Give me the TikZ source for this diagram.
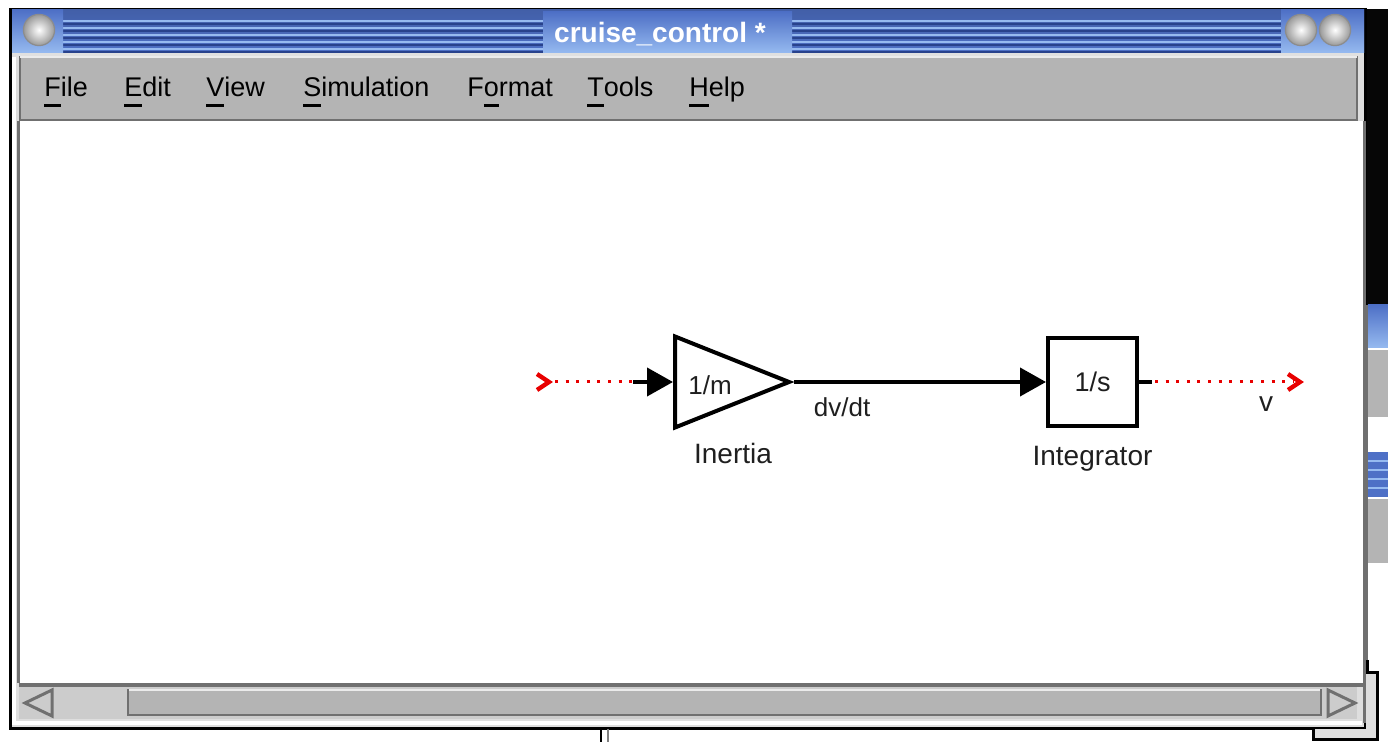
\documentclass[tikz,border=0pt]{standalone}
\usepackage{fontspec}
\setmainfont{Liberation Sans}
\usetikzlibrary{arrows.meta, positioning, shapes.geometric}
\definecolor{barblue}{RGB}{78,112,198}
\definecolor{barlight}{RGB}{150,186,240}
\definecolor{bardark}{RGB}{40,66,140}
\definecolor{menugray}{RGB}{180,180,180}
\definecolor{edgegray}{RGB}{112,112,112}
\definecolor{troughgray}{RGB}{204,204,204}
\definecolor{framegray}{RGB}{222,222,222}
\definecolor{sigred}{RGB}{232,0,0}
\definecolor{deskblack}{RGB}{6,6,6}
\newcommand\mnem[1]{\setbox0\hbox{#1}\rlap{\rule[-5pt]{\wd0}{1.5pt}}\box0}

\begin{document}
\begin{tikzpicture}[x=0.5pt, y=-0.5pt,
  menu/.style={font=\fontsize{13.5}{15}\selectfont, anchor=base west, inner sep=0pt},
  lbl/.style={font=\fontsize{14}{16}\selectfont, text=black!88, inner sep=0pt},
  gain/.style={isosceles triangle, isosceles triangle stretches, draw,
    line width=2pt, minimum width=45.5pt, minimum height=57pt,
    inner sep=0pt, line join=miter},
  blockbox/.style={draw, line width=2pt, minimum width=44.5pt,
    minimum height=44pt, inner sep=0pt, font=\fontsize{13.5}{15}\selectfont,
    text=black!88},
  sig/.style={line width=2pt, -{Triangle[length=13pt, width=14pt]}},
  dots/.style={sigred, line width=1.5pt, dash pattern=on 1.5pt off 3.8pt},
  chev/.style={sigred, line width=2.2pt},
  knob/.style={inner color=white, outer color=black!40, draw=black!45, line width=0.6pt}
]
  \useasboundingbox (0,0) rectangle (1388,742);
  \fill[white] (0,0) rectangle (1388,742);

  % Desktop behind, top right
  \fill[deskblack] (1340,9) rectangle (1388,305);

  % Main window
  \fill[framegray] (11,9) rectangle (1365,728);
  \draw[black, line width=1.2pt] (10.5,9) rectangle (1365.5,728.5);
  \draw[white, line width=2pt] (14,53) -- (14,723) -- (1362,723);

  % Windows behind, right edge
  \shade[top color=barblue, bottom color=barlight] (1368,305) rectangle (1388,348);
  \fill[menugray] (1368,350) rectangle (1388,417);
  \fill[barblue] (1368,452) rectangle (1388,497);
  \foreach \yy in {461,470,479,488}
    \draw[barlight, line width=1pt] (1368,\yy) -- (1388,\yy);
  \fill[menugray] (1368,499) rectangle (1388,563);
  \draw[edgegray, line width=1pt] (1367,305) -- (1367,660);
  \fill[framegray] (1313,729) rectangle (1377,740);
  \fill[framegray] (1366,673) rectangle (1377,740);
  \draw[black, line width=1.5pt] (1367,660) -- (1367,673) -- (1377,673)
    -- (1377,740) -- (1313,740) -- (1313,729);
  \draw[black, line width=1.2pt] (601,729) -- (601,742);
  \draw[gray, line width=1.2pt] (608,729) -- (608,742);

  % Title bar
  \shade[top color=barblue!85!black, bottom color=barblue] (12,10) rectangle (1364,53);
  \foreach \yy in {21,28,35,42,49} {
    \draw[barlight, line width=1.2pt] (63,\yy) -- (543,\yy) (792,\yy) -- (1281,\yy);
    \draw[bardark, line width=1.2pt] (63,\yy+3) -- (543,\yy+3) (792,\yy+3) -- (1281,\yy+3);
  }
  \shade[top color=barblue, bottom color=barlight] (12,10) rectangle (63,53);
  \shade[top color=barblue, bottom color=barlight] (1281,10) rectangle (1364,53);
  \shade[top color=barblue, bottom color=barlight] (543,12) rectangle (792,53);
  \node[font=\bfseries\fontsize{14}{16}\selectfont, text=white, inner sep=0pt]
    (title) at (660,34) {cruise\_control *};
  \shade[knob] (39,30) circle (7.8pt);
  \shade[knob] (1301,30) circle (7.8pt);
  \shade[knob] (1335,30) circle (7.8pt);

  % Menu bar
  \fill[white!88!black] (12,53) rectangle (1364,57);
  \filldraw[fill=menugray, draw=edgegray, line width=1pt] (20,57) rectangle (1357,120);
  \draw[white!92!black, line width=1pt] (20,57.5) -- (1357,57.5);
  \foreach \mx/\mtext in {44/\mnem{F}ile, 124/\mnem{E}dit, 206/\mnem{V}iew,
      303/\mnem{S}imulation, 467/F\mnem{o}rmat, 587/\mnem{T}ools, 689/\mnem{H}elp}
    \node[menu] (m\mx) at (\mx,97) {\mtext};

  % Canvas
  \fill[white] (19,121) rectangle (1364,683);
  \draw[edgegray, line width=1.2pt] (18.5,121) -- (18.5,683);
  \draw[edgegray, line width=1.2pt] (1364.5,121) -- (1364.5,723);

  % Scrollbar
  \fill[edgegray] (19,683) rectangle (1364,687);
  \fill[troughgray] (19,687) rectangle (1357,719);
  \filldraw[fill=menugray, draw=edgegray, line width=1pt] (128,690) rectangle (1321,715);
  \draw[white!92!black, line width=1pt] (129,690.5) -- (1320,690.5);
  \filldraw[fill=troughgray, draw=edgegray, line width=1.5pt]
    (25,703) -- (52,690) -- (52,716) -- cycle;
  \filldraw[fill=troughgray, draw=edgegray, line width=1.5pt]
    (1355,703) -- (1328,690) -- (1328,716) -- cycle;

  % Blocks
  \node[gain, anchor=west] (inertia) at (673,382) {};
  \node[lbl, font=\fontsize{13}{15}\selectfont] (gaintxt) at (710,385) {1/m};
  \node[lbl, anchor=north] (inertialbl) at (733,443) {Inertia};
  \node[blockbox] (integ) at (1092.5,382) {1/s};
  \node[lbl, below=9pt of integ] (integlbl) {Integrator};

  % Ports
  \coordinate (inport) at (549,382);
  \coordinate (instub) at (633,382);
  \coordinate (outstub) at (1152,382);
  \coordinate (outport) at (1300,382);

  % Signals
  \draw[chev] ([shift={(-12,-8)}]inport) -- (inport) -- ([shift={(-12,8)}]inport);
  \draw[dots] ([xshift=3pt]inport) -- (instub);
  \draw[sig] (instub) -- (inertia.west);
  \draw[sig] (inertia.east) -- node[lbl, font=\fontsize{13}{15}\selectfont,
    pos=0.19, below=7pt] (dvdt) {dv/dt} (integ.west);
  \draw[line width=2pt] (integ.east) -- (outstub);
  \draw[dots] ([xshift=1.5pt]outstub) -- node[lbl, pos=0.8, below=6.5pt]
    (vlbl) {v} ([xshift=-3pt]outport);
  \draw[chev] ([shift={(-12,-8)}]outport) -- (outport) -- ([shift={(-12,8)}]outport);
\end{tikzpicture}
\end{document}
